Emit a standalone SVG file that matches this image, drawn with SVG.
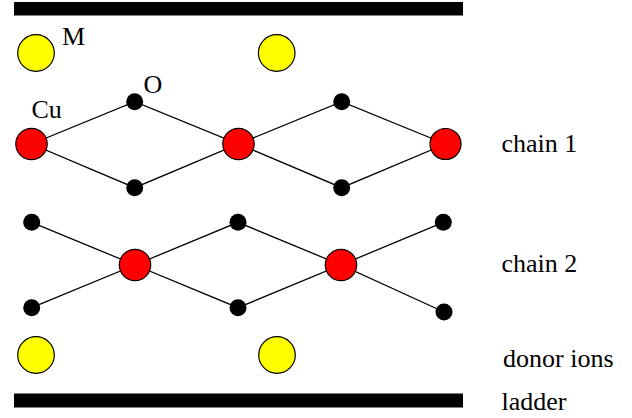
<svg xmlns="http://www.w3.org/2000/svg" width="632" height="418" viewBox="0 0 632 418">
<style>
.bar{fill:#000}
.bond{stroke:#000;stroke-width:1.3;fill:none}
.cu{fill:#ff0000;stroke:#000;stroke-width:1.2}
.o{fill:#000}
.m{fill:#ffff00;stroke:#000;stroke-width:1.2}
text{font-family:"Liberation Serif","Times New Roman",serif;font-size:26px;fill:#000}
</style>
<rect width="632" height="418" fill="#fff"/>
<g id="ladder-top"><rect class="bar" x="14" y="2" width="449" height="13.5"/></g>
<g id="ladder-bottom"><rect class="bar" x="14" y="393.5" width="449" height="14"/></g>
<g id="connectors">
<polyline class="bond" points="31.5,144 134.7,101.7 238.5,144 341.7,101.7 445.5,144"/>
<polyline class="bond" points="31.5,144 134.7,187.7 238.5,144 341.7,187.7 445.5,144"/>
<polyline class="bond" points="31.7,222.3 135,265 238,307.7 341,265 444,312"/>
<polyline class="bond" points="31.7,307.7 135,265 238,222.3 341,265 443.3,222.3"/>
</g>
<g id="m1"><circle class="m" cx="36" cy="53" r="18.3"/></g>
<g id="m2"><circle class="m" cx="276.7" cy="53" r="18.3"/></g>
<g id="m3"><circle class="m" cx="36" cy="355" r="18.3"/></g>
<g id="m4"><circle class="m" cx="277" cy="355" r="18.3"/></g>
<g id="cu1"><circle class="cu" cx="31.5" cy="144" r="15.7"/></g>
<g id="cu2"><circle class="cu" cx="238.5" cy="144" r="15.7"/></g>
<g id="cu3"><circle class="cu" cx="445.5" cy="144" r="15.5"/></g>
<g id="cu4"><circle class="cu" cx="135" cy="265" r="15.7"/></g>
<g id="cu5"><circle class="cu" cx="341" cy="265" r="15.7"/></g>
<g id="o1"><circle class="o" cx="134.7" cy="101.7" r="8.5"/></g>
<g id="o2"><circle class="o" cx="134.7" cy="187.7" r="8.5"/></g>
<g id="o3"><circle class="o" cx="341.7" cy="101.7" r="8.5"/></g>
<g id="o4"><circle class="o" cx="341.7" cy="187.7" r="8.5"/></g>
<g id="o5"><circle class="o" cx="31.7" cy="222.3" r="8.5"/></g>
<g id="o6"><circle class="o" cx="31.7" cy="307.7" r="8.5"/></g>
<g id="o7"><circle class="o" cx="238" cy="222.3" r="8.5"/></g>
<g id="o8"><circle class="o" cx="238" cy="307.7" r="8.5"/></g>
<g id="o9"><circle class="o" cx="443.3" cy="222.3" r="8.5"/></g>
<g id="o10"><circle class="o" cx="444" cy="312" r="8.5"/></g>
<g id="labels">
<text x="62" y="45">M</text>
<text x="143.5" y="92.5">O</text>
<text x="31.5" y="118">Cu</text>
<text x="501.5" y="152">chain 1</text>
<text x="501.5" y="272">chain 2</text>
<text x="503" y="367">donor ions</text>
<text x="501.5" y="410">ladder</text>
</g>
</svg>
